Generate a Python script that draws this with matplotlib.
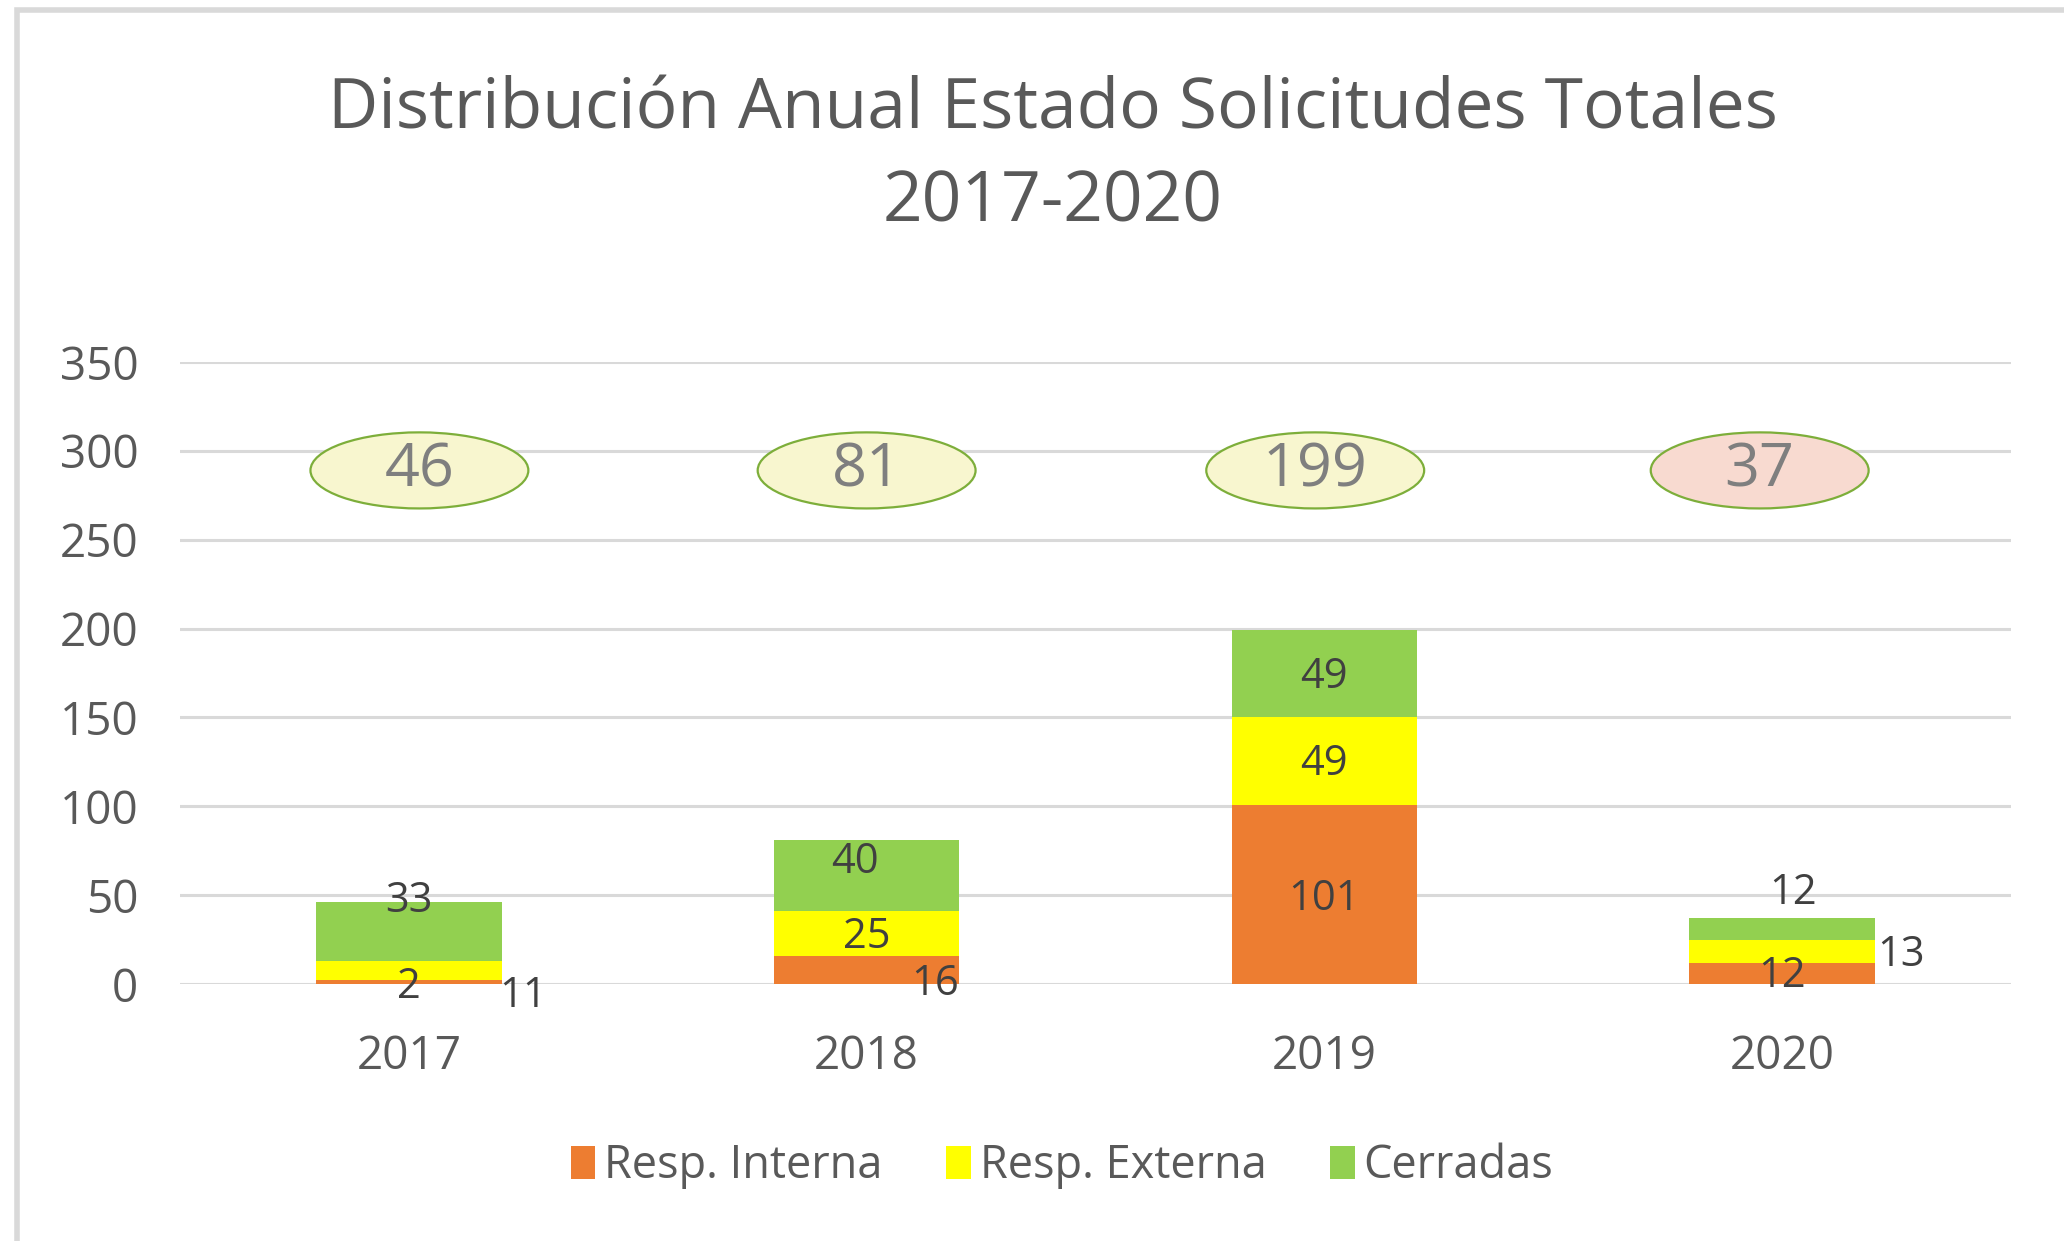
import matplotlib.pyplot as plt
import numpy as np
from matplotlib.patches import Ellipse, Rectangle

plt.rcParams['font.family'] = ['Open Sans', 'DejaVu Sans']

years = ['2017', '2018', '2019', '2020']
resp_interna = [2, 16, 101, 12]
resp_externa = [11, 25, 49, 13]
cerradas = [33, 40, 49, 12]
totales = [46, 81, 199, 37]

# where the labels sit (Excel moved some of them by hand): (dx, y)
pos_interna = [(0.0, -1.5), (0.15, 0.0), (0.0, 48), (0.0, 4.4)]
pos_externa = [(0.25, -6.7), (0.0, 26.6), (0.0, 123.6), (0.26, 16.3)]
pos_cerradas = [(0.0, 46.6), (-0.026, 68.8), (0.0, 173), (0.023, 51)]
ellipse_dx = [0.023, 0.0, -0.02, -0.049]

c_int = '#ED7D31'
c_ext = '#FFFF00'
c_cer = '#92D050'

fig = plt.figure(figsize=(20.64, 12.41), dpi=100)
ax = fig.add_axes([180 / 2064, 1 - 984 / 1241, (2011 - 180) / 2064, (984 - 362) / 1241])

# light border of the chart area
fig.patches.append(Rectangle((17 / 2064, -0.1), 1.2, 1 - 10 / 1241 + 0.1, transform=fig.transFigure,
                             fill=False, edgecolor='#d9d9d9', linewidth=4))

x = np.arange(len(years))
w = 0.405
b1 = np.array(resp_interna)
b2 = b1 + np.array(resp_externa)
ax.bar(x, resp_interna, w, color=c_int, label='Resp. Interna', zorder=3)
ax.bar(x, resp_externa, w, bottom=b1, color=c_ext, label='Resp. Externa', zorder=3)
ax.bar(x, cerradas, w, bottom=b2, color=c_cer, label='Cerradas', zorder=3)

lab_col = '#404040'
for vals, pos in [(resp_interna, pos_interna), (resp_externa, pos_externa), (cerradas, pos_cerradas)]:
    for i, v in enumerate(vals):
        dx, yy = pos[i]
        ax.text(i + dx, yy, str(v), ha='center', va='center', fontsize=30, color=lab_col,
                zorder=5, clip_on=False)

# total in an ellipse above each bar
for i, t in enumerate(totales):
    fc = '#F8DAD0' if i == 3 else '#F8F6CF'
    cx = i + ellipse_dx[i]
    ax.add_patch(Ellipse((cx, 289), 0.476, 42.8, facecolor=fc, edgecolor='#7DAE3A',
                         linewidth=1.6, zorder=4))
    ax.text(cx, 289, str(t), ha='center', va='center', fontsize=44, color='#7F7F7F', zorder=5)

ax.set_xlim(-0.5, 3.5)
ax.set_ylim(0, 350)
ax.set_yticks(np.arange(0, 351, 50))
ax.set_xticks(x)
ax.set_xticklabels(years)
ax.yaxis.grid(True, color='#d9d9d9', linewidth=2.2, zorder=0)
ax.set_axisbelow(True)
for s in ax.spines.values():
    s.set_visible(False)
ax.tick_params(axis='both', length=0, labelsize=33, labelcolor='#595959')
ax.tick_params(axis='y', pad=30)
ax.tick_params(axis='x', pad=36)

fig.text(1053 / 2064, 1 - 157 / 1241, 'Distribución Anual Estado Solicitudes Totales\n2017-2020',
         ha='center', va='center', fontsize=50, color='#595959', linespacing=1.42)

leg = fig.legend(loc='center', bbox_to_anchor=(1062 / 2064, 1 - 1166 / 1241), ncol=3, frameon=False,
                 fontsize=32.5, handlelength=0.55, handleheight=0.75, handletextpad=0.2, columnspacing=1.4)
for t in leg.get_texts():
    t.set_color('#595959')

fig.savefig('out.png', dpi=100)
